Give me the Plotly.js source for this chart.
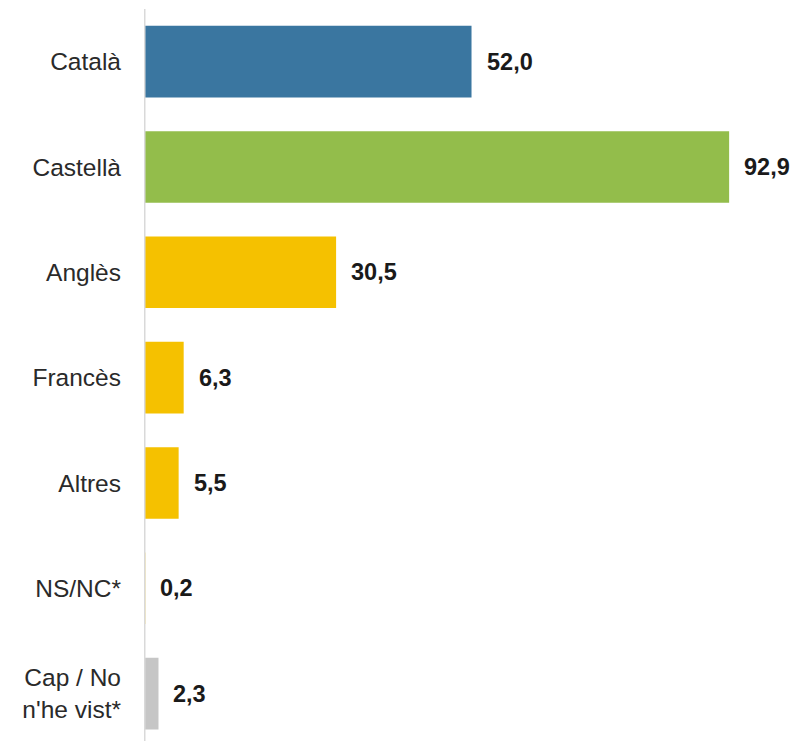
<!DOCTYPE html>
<html>
<head>
<meta charset="utf-8">
<script src="https://cdn.plot.ly/plotly-3.0.1.min.js"></script>
<style>html,body{margin:0;padding:0;background:#fff;}#chart{width:794px;height:741px;}</style>
</head>
<body>
<div id="chart"></div>
<script>
const categories = ["Català", "Castellà", "Anglès", "Francès", "Altres", "NS/NC*", "Cap / No<br>n'he vist*"];
const values = [52.0, 92.9, 30.5, 6.3, 5.5, 0.2, 2.3];
const barColors = ["#3A76A0", "#93BD4B", "#F5C100", "#F5C100", "#F5C100", "#F5C100", "#C6C6C6"];

const fmt = v => v.toFixed(1).replace(".", ",");

const trace = {
  type: "bar",
  orientation: "h",
  y: categories,
  x: values,
  marker: { color: barColors },
  width: 0.68,
  hoverinfo: "skip"
};

const annotations = values.map((v, i) => ({
  x: v, y: categories[i], xref: "x", yref: "y",
  text: fmt(v), showarrow: false, xanchor: "left", xshift: 13,
  font: { family: "Liberation Sans, Arial, sans-serif", size: 23.5, color: "#1a1a1a", weight: "bold" }
}));

const layout = {
  width: 794, height: 741,
  margin: { l: 144, r: 0, t: 9, b: 0 },
  paper_bgcolor: "#fff", plot_bgcolor: "#fff",
  showlegend: false,
  font: { family: "Liberation Sans, Arial, sans-serif", size: 24.5, color: "#2a2a2a" },
  xaxis: { range: [0, 103.2], showgrid: false, zeroline: false, showticklabels: false, showline: false, fixedrange: true },
  yaxis: {
    type: "category", categoryorder: "array", categoryarray: categories,
    range: [6.45, -0.5],
    showgrid: false, zeroline: false, showline: false,
    ticks: "", ticklabelstandoff: 22,
    tickfont: { family: "Liberation Sans, Arial, sans-serif", size: 24.5, color: "#2a2a2a" }
  },
  shapes: [{
    type: "line", xref: "x", yref: "paper", x0: 0, x1: 0, y0: 0, y1: 1,
    line: { color: "#D9D9D9", width: 3 }, layer: "above"
  }],
  annotations: annotations
};

Plotly.newPlot("chart", [trace], layout, { displayModeBar: false, staticPlot: true });
</script>
</body>
</html>
